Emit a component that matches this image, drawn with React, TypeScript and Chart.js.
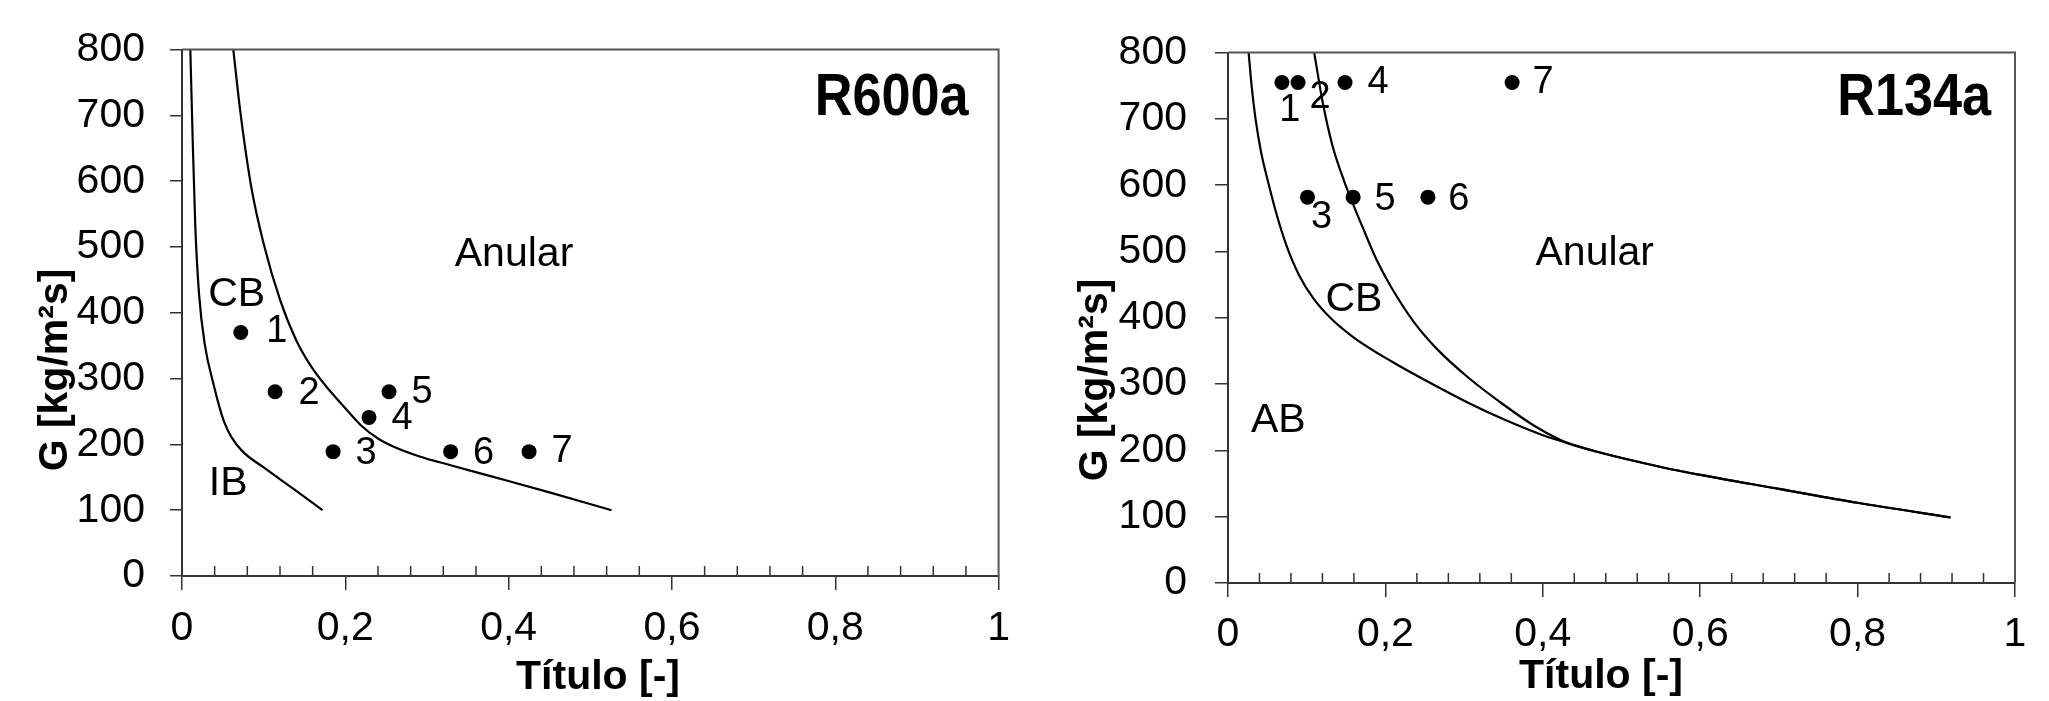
import React, { useEffect, useRef } from "react";
import { Chart, registerables } from "chart.js";

Chart.register(...registerables);

const FONT = "'Liberation Sans', Arial, Helvetica, sans-serif";

// ---------- shared axes ----------
const xTickValues = [0, 0.2, 0.4, 0.6, 0.8, 1];
const xTickLabels = ["0", "0,2", "0,4", "0,6", "0,8", "1"];
const xMinorTickValues = [
  0.04, 0.08, 0.12, 0.16, 0.24, 0.28, 0.32, 0.36, 0.44, 0.48, 0.52, 0.56,
  0.64, 0.68, 0.72, 0.76, 0.84, 0.88, 0.92, 0.96,
];
const yTickValues = [0, 100, 200, 300, 400, 500, 600, 700, 800];
const yTickLabels = ["0", "100", "200", "300", "400", "500", "600", "700", "800"];

// ---------- R600a ----------
const r600aIbBoundaryX = [0.0102, 0.013, 0.0163, 0.0209, 0.0279, 0.0395, 0.0465, 0.052, 0.0605, 0.0744, 0.1, 0.137, 0.172];
const r600aIbBoundaryG = [800, 667, 531, 428, 352, 287, 254, 233, 211, 189, 165, 132, 100];
const r600aAnularBoundaryX = [0.0628, 0.072, 0.085, 0.1, 0.12, 0.14, 0.16, 0.18, 0.2, 0.22, 0.24, 0.26, 0.29, 0.33, 0.38, 0.45, 0.526];
const r600aAnularBoundaryG = [800, 700, 590, 505, 420, 358, 315, 283, 255, 228, 209, 196, 182, 168, 151, 127, 100];
const r600aPointX = [0.072, 0.114, 0.185, 0.229, 0.2535, 0.329, 0.425];
const r600aPointG = [370, 280, 189, 241, 280, 189, 189];
const r600aPointLabels = ["1", "2", "3", "4", "5", "6", "7"];

// ---------- R134a ----------
const r134aAbBoundaryX = [0.0262, 0.03, 0.035, 0.042, 0.052, 0.062, 0.074, 0.09, 0.108, 0.13, 0.159, 0.208, 0.2566, 0.305, 0.354, 0.402, 0.4316, 0.475, 0.55, 0.6, 0.7, 0.8, 0.918];
const r134aAbBoundaryG = [800, 750, 700, 650, 600, 555, 510, 465, 430, 400, 371, 334, 302, 272, 245, 222, 211, 196, 175, 163, 142, 121, 99];
const r134aAnularBoundaryX = [0.1095, 0.1205, 0.1327, 0.1473, 0.1594, 0.1716, 0.1886, 0.208, 0.2372, 0.2663, 0.3052, 0.349, 0.388, 0.4218, 0.4316, 0.475, 0.55, 0.6, 0.7, 0.8, 0.918];
const r134aAnularBoundaryG = [800, 724, 660, 607, 570, 535, 488, 445, 392, 352, 310, 270, 238, 216, 211, 196, 175, 163, 142, 121, 99];
const r134aPointX = [0.0685, 0.089, 0.101, 0.1487, 0.159, 0.254, 0.361];
const r134aPointG = [755, 755, 582, 755, 582, 582, 755];
const r134aPointLabels = ["1", "2", "3", "4", "5", "6", "7"];

type Panel = {
  title: string;
  curves: { x: number[]; g: number[] }[];
  px: number[];
  pg: number[];
  plabels: string[];
  labelOffsets: [number, number][];
  regions: { text: string; x: number; g: number }[];
  canvasLeft: number;
  canvasWidth: number;
  yAxisWidth: number;
  padTop: number;
  padRight: number;
  xAxisHeight: number;
  yTickPad: number;
  yTickLen: number;
  xTickPad: number;
  yTitleX: number;
  yTitleY: number;
  xTitleX: number;
  xTitleY: number;
  titleRightInset: number;
  titleY: number;
};

const panels: Panel[] = [
  {
    title: "R600a",
    curves: [
      { x: r600aIbBoundaryX, g: r600aIbBoundaryG },
      { x: r600aAnularBoundaryX, g: r600aAnularBoundaryG },
    ],
    px: r600aPointX,
    pg: r600aPointG,
    plabels: r600aPointLabels,
    labelOffsets: [[36, -1], [34, 2], [33, 2], [33, 1], [33, 1], [33, 2], [33, 0]],
    regions: [
      { text: "Anular", x: 0.4066, g: 488 },
      { text: "CB", x: 0.067, g: 427 },
      { text: "IB", x: 0.0566, g: 140 },
    ],
    canvasLeft: 0,
    canvasWidth: 1024,
    yAxisWidth: 182,
    padTop: 49,
    padRight: 17,
    xAxisHeight: 125,
    yTickPad: 25,
    yTickLen: 12,
    xTickPad: 14,
    yTitleX: 67,
    yTitleY: 370,
    xTitleX: 598,
    xTitleY: 689,
    titleRightInset: 30,
    titleY: 115,
  },
  {
    title: "R134a",
    curves: [
      { x: r134aAbBoundaryX, g: r134aAbBoundaryG },
      { x: r134aAnularBoundaryX, g: r134aAnularBoundaryG },
    ],
    px: r134aPointX,
    pg: r134aPointG,
    plabels: r134aPointLabels,
    labelOffsets: [[8, 28], [22, 15], [14, 20], [33, 0], [32, 2], [31, 2], [31, 0]],
    regions: [
      { text: "Anular", x: 0.466, g: 496 },
      { text: "CB", x: 0.16, g: 428 },
      { text: "AB", x: 0.064, g: 245 },
    ],
    canvasLeft: 1024,
    canvasWidth: 1025,
    yAxisWidth: 204,
    padTop: 50,
    padRight: 34,
    xAxisHeight: 118,
    yTickPad: 28,
    yTickLen: 13,
    xTickPad: 13,
    yTitleX: 83,
    yTitleY: 380,
    xTitleX: 577,
    xTitleY: 688,
    titleRightInset: 24,
    titleY: 115,
  },
];

function decor(p: Panel) {
  return {
    id: "decor",
    afterDraw(chart: any) {
      const ctx = chart.ctx as CanvasRenderingContext2D;
      const a = chart.chartArea;
      const xs = chart.scales.x;
      const ys = chart.scales.y;
      ctx.save();
      // plot frame (top & right)
      ctx.strokeStyle = "#555";
      ctx.lineWidth = 2;
      ctx.beginPath();
      ctx.moveTo(a.left, a.top);
      ctx.lineTo(a.right, a.top);
      ctx.lineTo(a.right, a.bottom);
      ctx.stroke();
      // minor x ticks (inside)
      ctx.strokeStyle = "#333";
      ctx.lineWidth = 1.5;
      ctx.beginPath();
      for (const v of xMinorTickValues) {
        const x = xs.getPixelForValue(v);
        ctx.moveTo(x, a.bottom);
        ctx.lineTo(x, a.bottom - 10);
      }
      ctx.stroke();

      ctx.fillStyle = "#000";
      // region labels
      ctx.font = `41px ${FONT}`;
      ctx.textAlign = "center";
      ctx.textBaseline = "middle";
      for (const r of p.regions) {
        ctx.fillText(r.text, xs.getPixelForValue(r.x), ys.getPixelForValue(r.g));
      }
      // point labels
      ctx.font = `38px ${FONT}`;
      p.plabels.forEach((t, i) => {
        const x = xs.getPixelForValue(p.px[i]) + p.labelOffsets[i][0];
        const y = ys.getPixelForValue(p.pg[i]) + p.labelOffsets[i][1];
        ctx.fillText(t, x, y);
      });
      // panel title (condensed bold)
      ctx.save();
      ctx.font = `bold 60px ${FONT}`;
      ctx.textAlign = "right";
      ctx.textBaseline = "alphabetic";
      ctx.translate(a.right - p.titleRightInset, p.titleY);
      ctx.scale(0.87, 1);
      ctx.fillText(p.title, 0, 0);
      ctx.restore();
      // axis titles
      ctx.font = `bold 41px ${FONT}`;
      ctx.textAlign = "center";
      ctx.textBaseline = "alphabetic";
      ctx.fillText("Título [-]", p.xTitleX, p.xTitleY);
      ctx.translate(p.yTitleX, p.yTitleY);
      ctx.rotate(-Math.PI / 2);
      ctx.fillText("G [kg/m²s]", 0, 0);
      ctx.restore();
    },
  };
}

function PanelChart({ p }: { p: Panel }) {
  const ref = useRef<HTMLCanvasElement>(null);
  useEffect(() => {
    const canvas = ref.current;
    if (!canvas) return;
    const datasets: any[] = [
      {
        label: "points",
        data: p.px.map((x, i) => ({ x, y: p.pg[i] })),
        showLine: false,
        pointRadius: 7.5,
        pointHoverRadius: 7.5,
        pointBackgroundColor: "#000",
        pointBorderWidth: 0,
        backgroundColor: "#000",
        borderColor: "#000",
      },
      ...p.curves.map((c, k) => ({
        label: "curve" + k,
        data: c.x.map((x, i) => ({ x, y: c.g[i] })),
        showLine: true,
        pointRadius: 0,
        pointHoverRadius: 0,
        borderColor: "#000",
        borderWidth: 2.2,
        cubicInterpolationMode: "monotone",
        fill: false,
      })),
    ];
    const chart = new Chart(canvas, {
      type: "scatter",
      data: { datasets },
      options: {
        responsive: false,
        animation: false,
        devicePixelRatio: 1,
        events: [],
        layout: { padding: { top: p.padTop, right: p.padRight, left: 0, bottom: 0 } },
        plugins: { legend: { display: false }, tooltip: { enabled: false } },
        scales: {
          x: {
            type: "linear",
            min: 0,
            max: 1,
            afterBuildTicks: (s: any) => {
              s.ticks = xTickValues.map((v) => ({ value: v }));
            },
            afterFit: (s: any) => {
              s.height = p.xAxisHeight;
            },
            ticks: {
              callback: (_v: any, i: number) => xTickLabels[i],
              font: { family: FONT, size: 41 },
              color: "#000",
              padding: p.xTickPad,
              maxRotation: 0,
              autoSkip: false,
            },
            grid: { drawOnChartArea: false, drawTicks: true, tickLength: 14, color: "#333", lineWidth: 1.5 },
            border: { display: true, color: "#333", width: 2 },
          },
          y: {
            type: "linear",
            min: 0,
            max: 800,
            afterBuildTicks: (s: any) => {
              s.ticks = yTickValues.map((v) => ({ value: v }));
            },
            afterFit: (s: any) => {
              s.width = p.yAxisWidth;
            },
            ticks: {
              callback: (_v: any, i: number) => yTickLabels[i],
              font: { family: FONT, size: 41 },
              color: "#000",
              padding: p.yTickPad,
              autoSkip: false,
            },
            grid: { drawOnChartArea: false, drawTicks: true, tickLength: p.yTickLen, color: "#333", lineWidth: 1.5 },
            border: { display: true, color: "#333", width: 2 },
          },
        },
      } as any,
      plugins: [decor(p)],
    });
    return () => chart.destroy();
  }, [p]);
  return (
    <canvas
      ref={ref}
      width={p.canvasWidth}
      height={701}
      style={{ position: "absolute", left: p.canvasLeft, top: 0, width: p.canvasWidth, height: 701 }}
    />
  );
}

export default function App() {
  return (
    <div
      style={{
        position: "fixed",
        left: 0,
        top: 0,
        width: 2049,
        height: 701,
        background: "#fff",
        overflow: "hidden",
      }}
    >
      {panels.map((p) => (
        <PanelChart key={p.title} p={p} />
      ))}
    </div>
  );
}
